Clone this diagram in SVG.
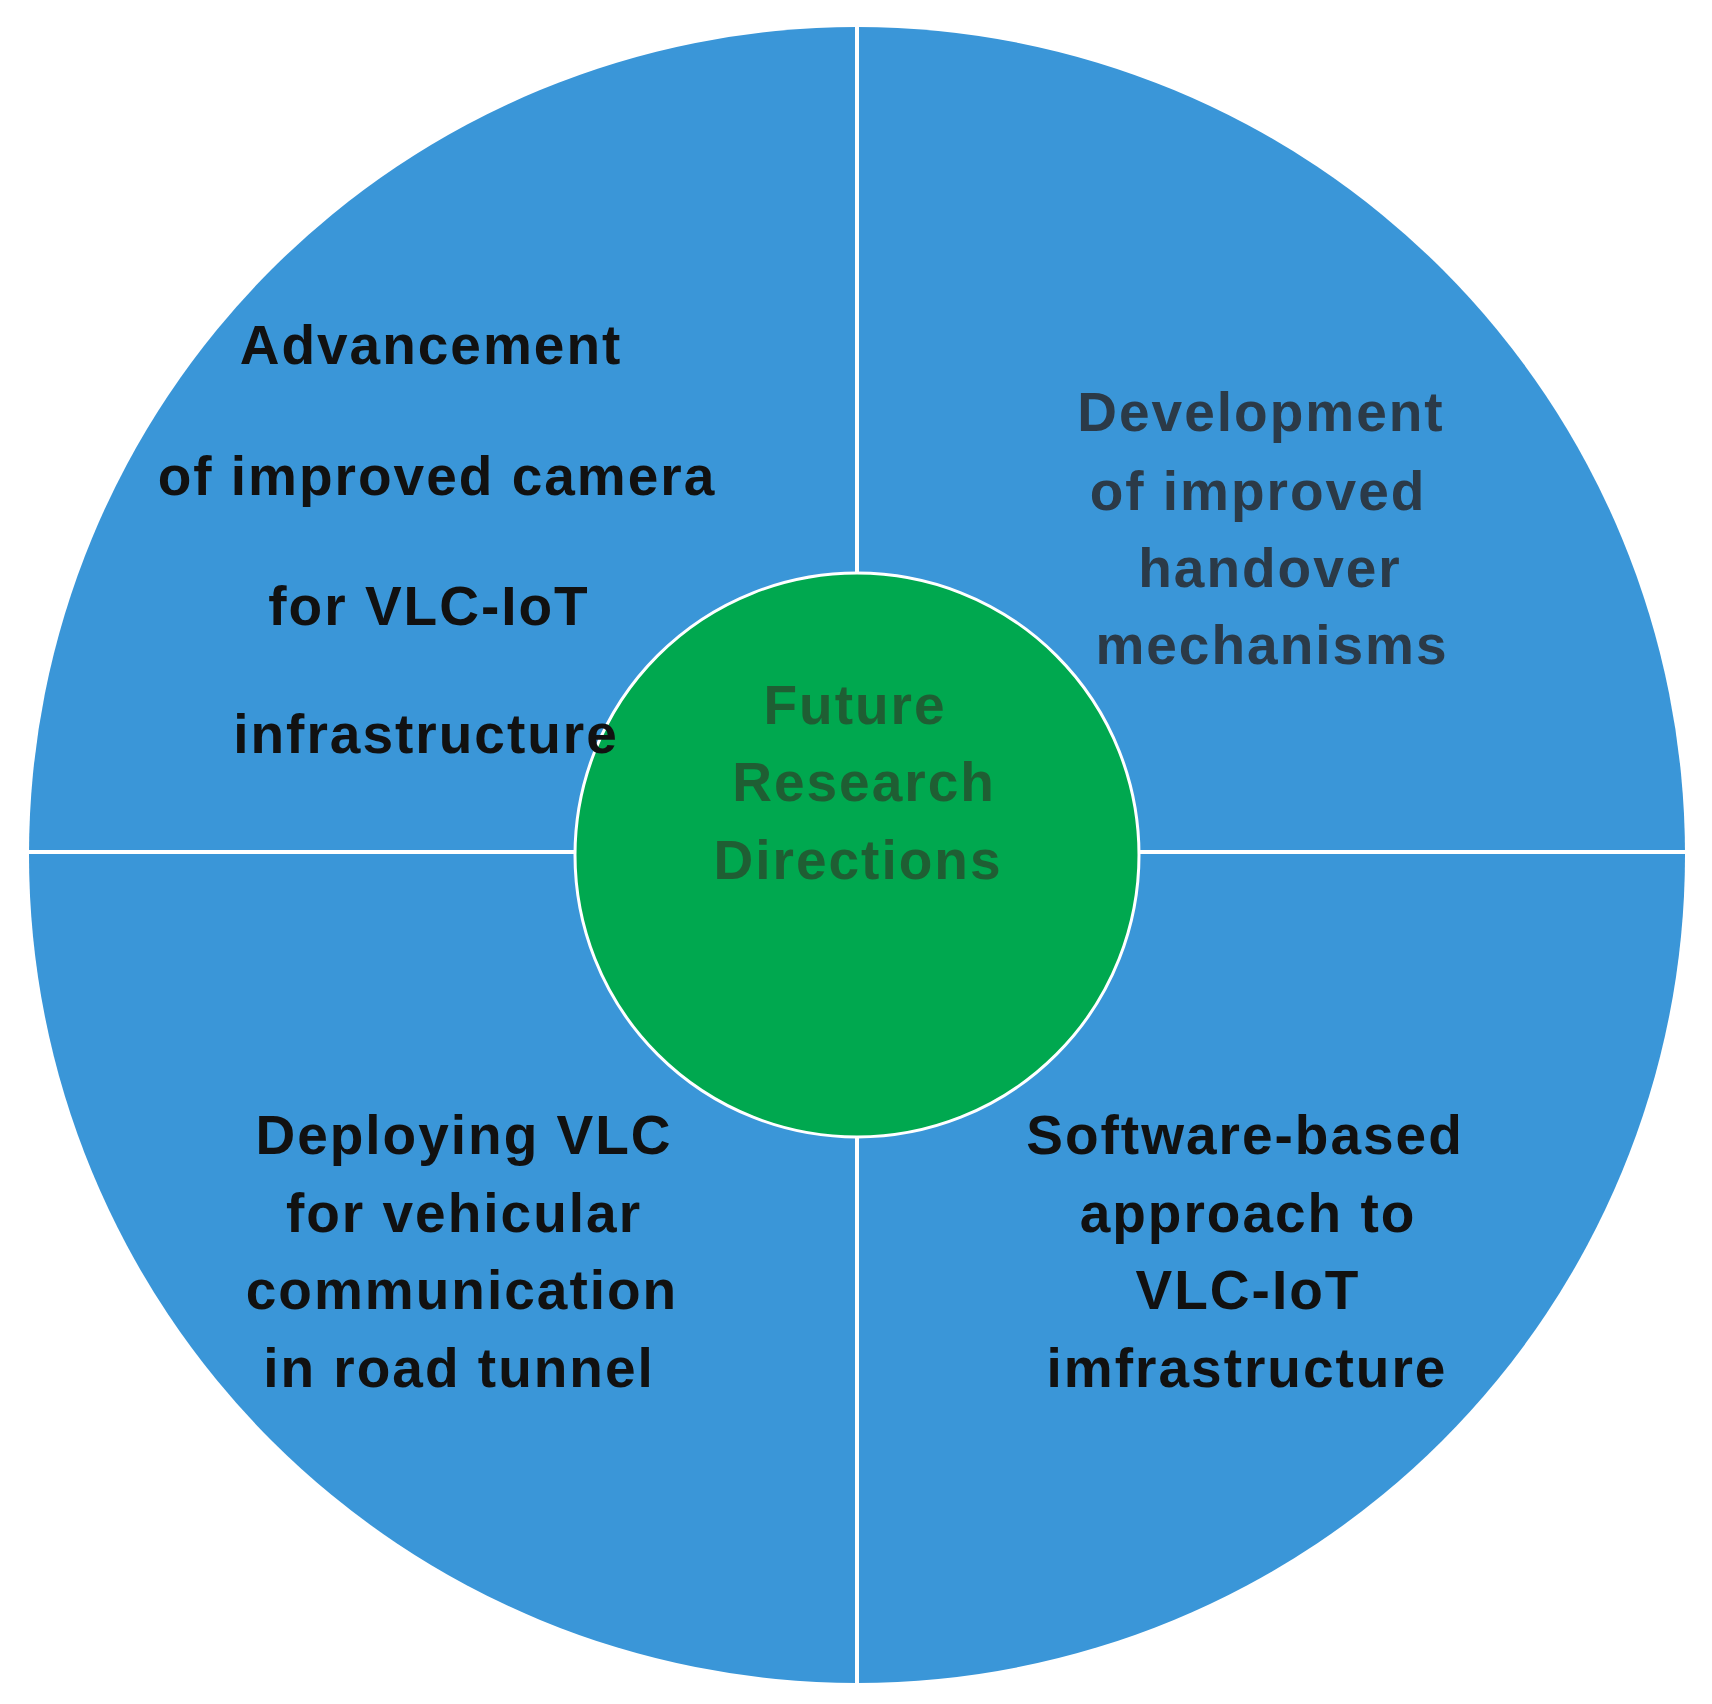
<svg xmlns="http://www.w3.org/2000/svg" width="1712" height="1704" viewBox="0 0 1712 1704">
<style>
text{font-family:"Liberation Sans",Arial,sans-serif;font-weight:bold;font-size:55px;text-anchor:middle;letter-spacing:2px}
.k{fill:#111}.g{fill:#2b3a48}.c{fill:#1f5e33}
</style>
<rect width="1712" height="1704" fill="#fff"/>
<g id="outer"><circle cx="857" cy="855" r="828" fill="#3a96d8"/></g>
<g id="connectors" stroke="#fff" stroke-width="4">
<line x1="857" y1="20" x2="857" y2="1690"/>
<line x1="20" y1="852" x2="1695" y2="852"/>
</g>
<g id="center"><circle cx="857" cy="855" r="282" fill="#00a84f" stroke="#fff" stroke-width="3"/>
<text class="c" x="855" y="724">Future</text><text class="c" x="864" y="801">Research</text><text class="c" x="858" y="879">Directions</text></g>
<g id="tl"><text class="k" x="431" y="364">Advancement</text><text class="k" x="437" y="495">of improved camera</text><text class="k" x="429" y="625">for VLC-IoT</text><text class="k" x="426" y="753">infrastructure</text></g>
<g id="tr"><text class="g" x="1261" y="431">Development</text><text class="g" x="1258" y="510">of improved</text><text class="g" x="1270" y="587">handover</text><text class="g" x="1272" y="664">mechanisms</text></g>
<g id="bl"><text class="k" x="464" y="1154">Deploying VLC</text><text class="k" x="464" y="1232">for vehicular</text><text class="k" x="462" y="1309">communication</text><text class="k" x="459" y="1387">in road tunnel</text></g>
<g id="br"><text class="k" x="1245" y="1154">Software-based</text><text class="k" x="1248" y="1232">approach to</text><text class="k" x="1248" y="1309">VLC-IoT</text><text class="k" x="1247" y="1387">imfrastructure</text></g>
</svg>
